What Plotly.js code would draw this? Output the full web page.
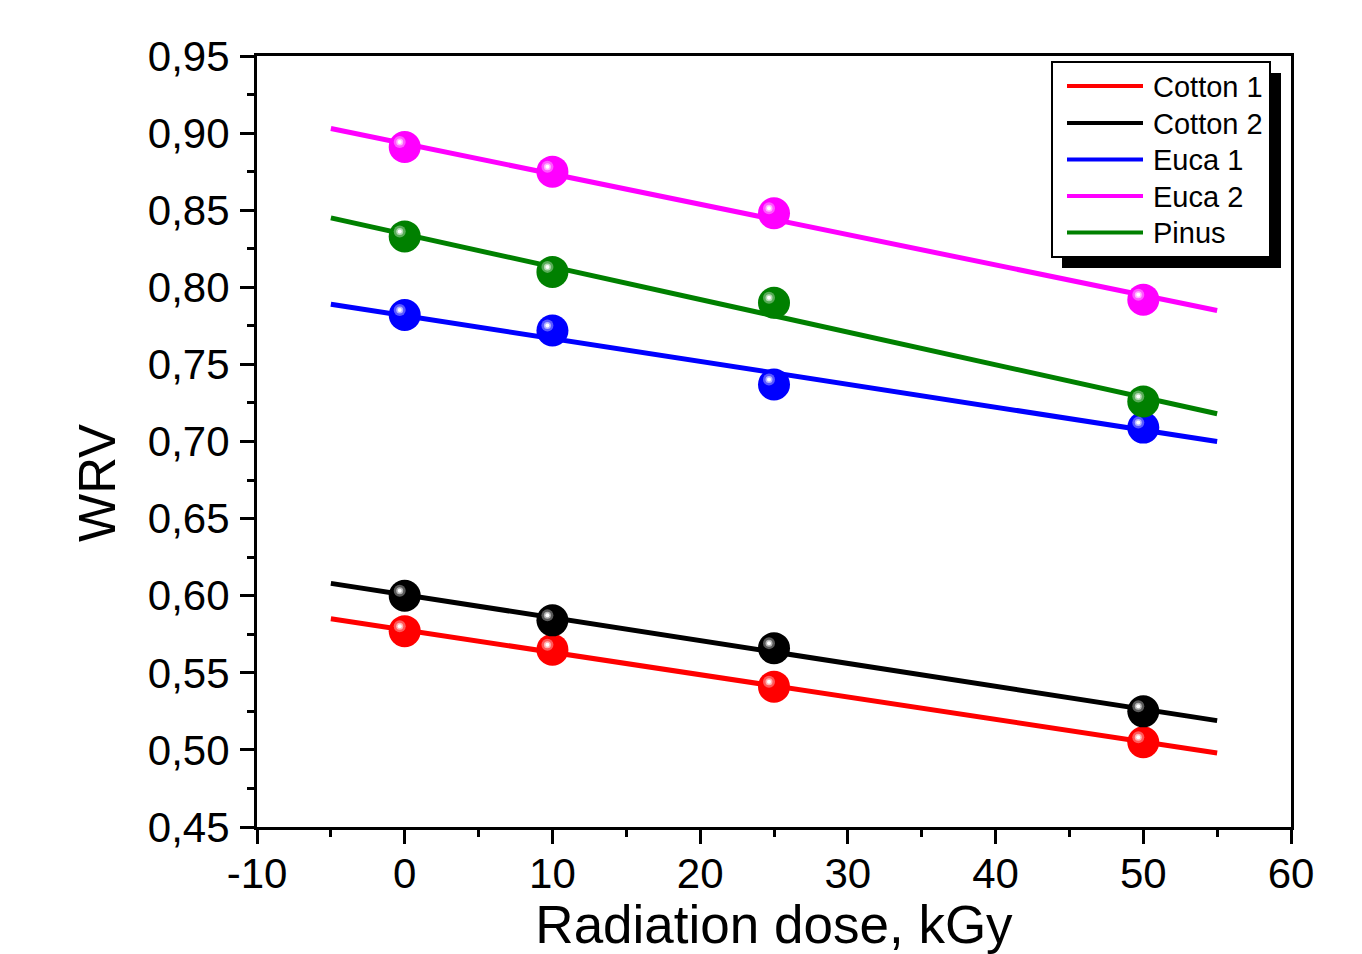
<!DOCTYPE html>
<html>
<head>
<meta charset="utf-8">
<script src="https://cdn.plot.ly/plotly-3.0.1.min.js"></script>
<style>
  html, body { margin: 0; padding: 0; background: #ffffff; }
  #chart { width: 1362px; height: 954px; }
</style>
</head>
<body>
<div id="chart"></div>
<script>
// ---- data ----
const seriesNames = ['Cotton 1', 'Cotton 2', 'Euca 1', 'Euca 2', 'Pinus'];
const seriesColors = ['#ff0000', '#000000', '#0000ff', '#ff00ff', '#008000'];
const doses = [0, 10, 25, 50];
const cotton1 = [0.577, 0.565, 0.541, 0.505];
const cotton2 = [0.600, 0.584, 0.566, 0.525];
const euca1 = [0.782, 0.772, 0.737, 0.709];
const euca2 = [0.891, 0.875, 0.848, 0.792];
const pinus = [0.833, 0.810, 0.790, 0.726];
// linear fit lines (end points)
const fitX = [-5, 55];
const cotton1Fit = [0.585, 0.498];
const cotton2Fit = [0.608, 0.519];
const euca1Fit = [0.789, 0.700];
const euca2Fit = [0.903, 0.785];
const pinusFit = [0.845, 0.718];
// axis ticks
const xTickVals = [-10, 0, 10, 20, 30, 40, 50, 60];
const xTickText = ['-10', '0', '10', '20', '30', '40', '50', '60'];
const yTickVals = [0.45, 0.50, 0.55, 0.60, 0.65, 0.70, 0.75, 0.80, 0.85, 0.90, 0.95];
const yTickText = ['0,45', '0,50', '0,55', '0,60', '0,65', '0,70', '0,75', '0,80', '0,85', '0,90', '0,95'];
const xTitle = 'Radiation dose, kGy';
const yTitle = 'WRV';

const seriesY = [cotton1, cotton2, euca1, euca2, pinus];
const seriesFit = [cotton1Fit, cotton2Fit, euca1Fit, euca2Fit, pinusFit];

const FONT = 'Liberation Sans, Arial, Helvetica, sans-serif';

// plot-area geometry helpers for paper coordinates
const W = 1362, H = 954;
const M = { l: 257, r: 71, t: 56, b: 127 };
const pw = W - M.l - M.r, ph = H - M.t - M.b;
const px = v => (v - M.l) / pw;
const py = v => (H - M.b - v) / ph;

const traces = [];
// fit lines first (under markers)
seriesNames.forEach((name, i) => {
  traces.push({
    x: fitX, y: seriesFit[i], mode: 'lines', type: 'scatter',
    name: name, showlegend: false, hoverinfo: 'skip',
    line: { color: seriesColors[i], width: 5 }
  });
});
seriesNames.forEach((name, i) => {
  traces.push({
    x: doses, y: seriesY[i], mode: 'markers', type: 'scatter',
    name: name, showlegend: false,
    marker: { color: seriesColors[i], size: 32, line: { width: 0 } }
  });
});

const shapes = [];
// specular highlights on the spheres
seriesNames.forEach((name, i) => {
  doses.forEach((d, j) => {
    shapes.push({
      type: 'circle', xref: 'x', yref: 'y', xsizemode: 'pixel', ysizemode: 'pixel',
      xanchor: d, yanchor: seriesY[i][j],
      x0: -11, x1: 1, y0: -1, y1: 11,
      fillcolor: 'rgba(255,255,255,0.35)', line: { width: 0 }
    });
    shapes.push({
      type: 'circle', xref: 'x', yref: 'y', xsizemode: 'pixel', ysizemode: 'pixel',
      xanchor: d, yanchor: seriesY[i][j],
      x0: -8.5, x1: -1.5, y0: 1.5, y1: 8.5,
      fillcolor: 'rgba(255,255,255,0.55)', line: { width: 0 }
    });
    shapes.push({
      type: 'circle', xref: 'x', yref: 'y', xsizemode: 'pixel', ysizemode: 'pixel',
      xanchor: d, yanchor: seriesY[i][j],
      x0: -7, x1: -3, y0: 3, y1: 7,
      fillcolor: '#ffffff', line: { width: 0 }
    });
  });
});

// legend box with drop shadow
shapes.push({
  type: 'rect', xref: 'paper', yref: 'paper', layer: 'above',
  x0: px(1062), x1: px(1281), y0: py(268), y1: py(73),
  fillcolor: '#000000', line: { width: 0 }
});
shapes.push({
  type: 'rect', xref: 'paper', yref: 'paper', layer: 'above',
  x0: px(1052), x1: px(1270), y0: py(257), y1: py(62),
  fillcolor: '#ffffff', line: { color: '#000000', width: 2 }
});
const rowY = [86, 123, 159.5, 196, 232.5];
const annotations = [];
seriesNames.forEach((name, i) => {
  shapes.push({
    type: 'line', xref: 'paper', yref: 'paper', layer: 'above',
    x0: px(1067), x1: px(1143), y0: py(rowY[i]), y1: py(rowY[i]),
    line: { color: seriesColors[i], width: 4 }
  });
  annotations.push({
    xref: 'paper', yref: 'paper', x: px(1151), y: py(rowY[i] + 1),
    xanchor: 'left', yanchor: 'middle', showarrow: false,
    text: name, font: { family: FONT, size: 29, color: '#000000' }
  });
});
// y axis title (positioned below centre, as in the reference)
annotations.push({
  xref: 'paper', yref: 'paper', x: px(97), y: py(483),
  xanchor: 'center', yanchor: 'middle', showarrow: false, textangle: -90,
  text: yTitle, font: { family: FONT, size: 51, color: '#000000' }
});

const axisCommon = {
  showline: true, mirror: true, linecolor: '#000000', linewidth: 3,
  showgrid: false, zeroline: false,
  ticks: 'outside', ticklen: 14, tickwidth: 3, tickcolor: '#000000',
  tickfont: { family: FONT, size: 42, color: '#000000' },
  tickmode: 'array'
};

const layout = {
  width: W, height: H,
  margin: M,
  paper_bgcolor: '#ffffff', plot_bgcolor: '#ffffff',
  showlegend: false,
  font: { family: FONT, color: '#000000' },
  xaxis: Object.assign({}, axisCommon, {
    range: [-10, 60],
    tickvals: xTickVals, ticktext: xTickText,
    ticklabelstandoff: -6,
    minor: { dtick: 5, tick0: -10, ticks: 'outside', ticklen: 7, tickwidth: 3, tickcolor: '#000000', showgrid: false },
    title: { text: xTitle, font: { family: FONT, size: 53, color: '#000000' }, standoff: 2 }
  }),
  yaxis: Object.assign({}, axisCommon, {
    range: [0.45, 0.95],
    tickvals: yTickVals, ticktext: yTickText,
    ticklabelstandoff: 2,
    minor: { dtick: 0.025, tick0: 0.45, ticks: 'outside', ticklen: 7, tickwidth: 3, tickcolor: '#000000', showgrid: false }
  }),
  shapes: shapes,
  annotations: annotations
};

Plotly.newPlot('chart', traces, layout, { displayModeBar: false, staticPlot: true });
</script>
</body>
</html>
